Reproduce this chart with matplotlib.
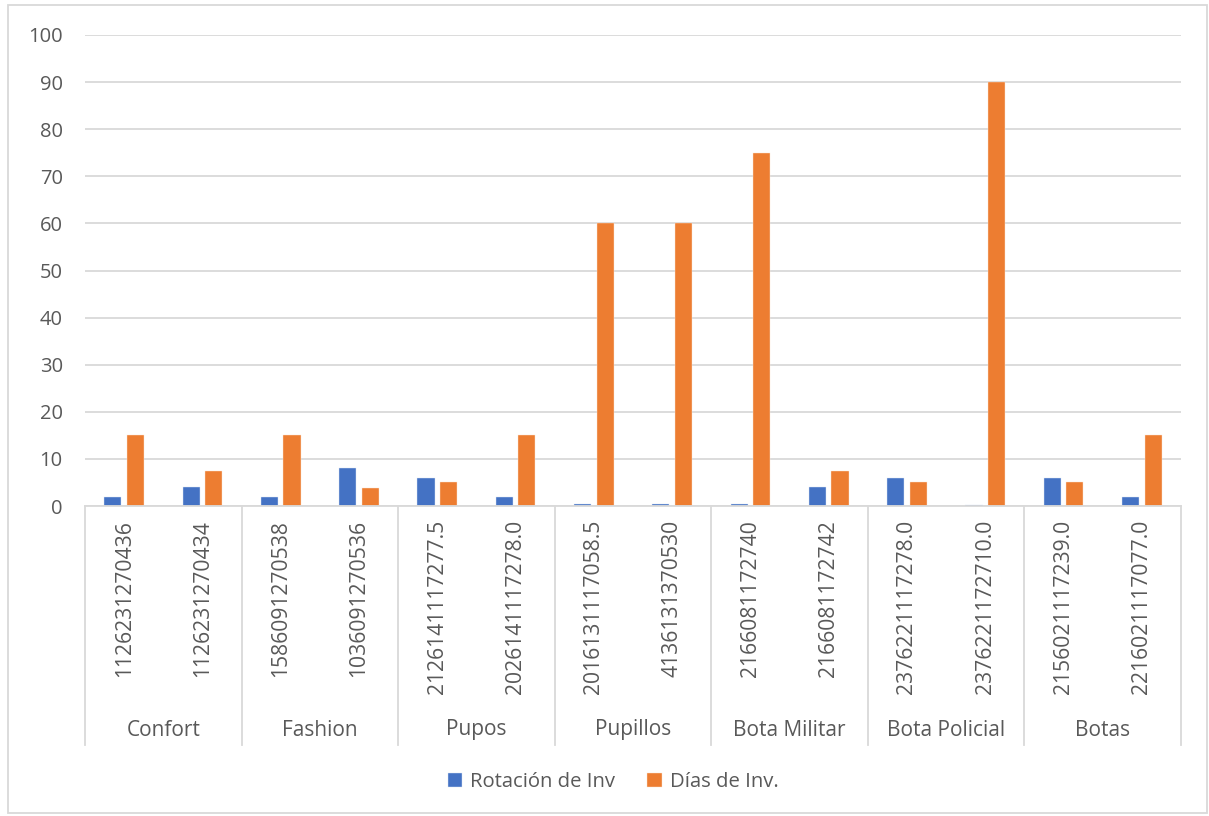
import matplotlib.pyplot as plt
import matplotlib.transforms as mtransforms
from matplotlib.patches import Rectangle
import numpy as np

plt.rcParams['font.family'] = ['Open Sans', 'DejaVu Sans']

groups = ["Confort", "Fashion", "Pupos", "Pupillos", "Bota Militar", "Bota Policial", "Botas"]
codes = [
    "1126231270436", "1126231270434",
    "1586091270538", "1036091270536",
    "2126141117277.5", "2026141117278.0",
    "2016131117058.5", "4136131370530",
    "2166081172740", "2166081172742",
    "2376221117278.0", "2376221172710.0",
    "2156021117239.0", "2216021117077.0",
]
rotacion = [2, 4, 2, 8, 6, 2, 0.5, 0.5, 0.4, 4, 6, 0.3, 6, 2]
dias = [15, 7.5, 15, 3.75, 5, 15, 60, 60, 75, 7.5, 5, 90, 5, 15]

BLUE = "#4472C4"
ORANGE = "#ED7D31"
TEXT = "#595959"
GRID = "#D9D9D9"

W, H = 1209, 816
fig = plt.figure(figsize=(W / 100, H / 100), dpi=100)

# plot area in pixels
left, right, top, bottom = 85, 1181, 35, 506
ax = fig.add_axes([left / W, 1 - bottom / H, (right - left) / W, (bottom - top) / H])

x = np.arange(len(codes))
bw = 0.22
off = 0.144
ax.bar(x - off, rotacion, bw, color=BLUE, edgecolor="#DDE6F5", linewidth=0.3,
       label="Rotación de Inv", zorder=3)
ax.bar(x + off, dias, bw, color=ORANGE, edgecolor="#FBE3D3", linewidth=0.3,
       label="Días de Inv.", zorder=3)

ax.set_xlim(-0.5, len(codes) - 0.5)
ax.set_ylim(0, 100)
ax.set_yticks(range(0, 101, 10))
ax.yaxis.grid(True, color=GRID, linewidth=1.3, zorder=0)
ax.tick_params(axis="y", length=0, pad=16, labelsize=14.5, labelcolor=TEXT)
ax.set_xticks([])
for s in ["top", "right", "left"]:
    ax.spines[s].set_visible(False)
ax.spines["bottom"].set_color(GRID)
ax.spines["bottom"].set_linewidth(1.3)
ax.spines["bottom"].set_zorder(4)

# category axis: codes, separators and group names below the plot
ph = bottom - top
trans = mtransforms.blended_transform_factory(ax.transData, ax.transAxes)
sep_bottom = -(745 - bottom) / ph
for i, code in enumerate(codes):
    ax.text(i, -(520 - bottom) / ph, code, transform=trans, rotation=90,
            ha="center", va="top", fontsize=15.2, color=TEXT)
for g, name in enumerate(groups):
    ax.text(2 * g + 0.5, -(730 - bottom) / ph, name, transform=trans,
            ha="center", va="center", fontsize=15, color=TEXT)
for b in range(len(groups) + 1):
    ax.plot([2 * b - 0.5] * 2, [0, sep_bottom], transform=trans, color=GRID,
            linewidth=1.3, clip_on=False)

leg = fig.legend(loc="center", bbox_to_anchor=(613 / W, 1 - 782 / H), ncol=2,
                 frameon=False, fontsize=14.6, handlelength=0.7, handleheight=0.7,
                 handletextpad=0.4, columnspacing=1.6)
for t in leg.get_texts():
    t.set_color(TEXT)

# outer chart border
fig.patches.append(Rectangle((8 / W, 3 / H), 1199 / W, 808 / H, transform=fig.transFigure,
                             fill=False, edgecolor=GRID, linewidth=1.3))

fig.savefig("out.png", dpi=100)
